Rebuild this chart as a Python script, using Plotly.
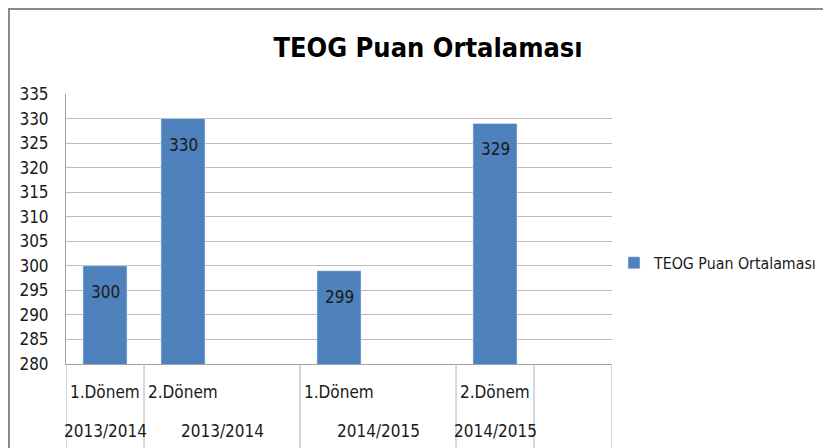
import plotly.graph_objects as go

# ---- data ----
slot_labels = ["1.Dönem", "2.Dönem", "", "1.Dönem", "", "2.Dönem", ""]
slot_values = [300, 330, None, 299, None, 329, None]
year_labels = ["2013/2014", "2013/2014", "2014/2015", "2014/2015"]
series_name = "TEOG Puan Ortalaması"
y_ticks = list(range(280, 340, 5))

FONT = "DejaVu Sans Condensed, Liberation Sans Narrow, sans-serif"
BAR = "#4f81bd"
GRID = "#bcbcbc"
TXT = "#1a1a1a"

# page has an 8px body margin; work in screen coordinates and convert
OFF = 8
W, H = 831 - OFF, 448 - OFF
L, R, T, B = 66, 612, 94, 364  # plot area in screen px

xs = list(range(len(slot_labels)))
bar_x = [x for x, v in zip(xs, slot_values) if v is not None]
bar_y = [v for v in slot_values if v is not None]

fig = go.Figure()
fig.add_trace(go.Bar(x=bar_x, y=bar_y, name=series_name, marker_color=BAR,
                     width=0.565, showlegend=True))

ann = []
for x, v in zip(bar_x, bar_y):
    ann.append(dict(x=x, y=v, xref="x", yref="y", text=str(v), showarrow=False,
                    yanchor="top", yshift=-14, font=dict(family=FONT, size=17, color=TXT)))

def py(p):
    return (B - p) / (B - T)

def px(p):
    return (p - L) / (R - L)

for x, lab in zip(xs, slot_labels):
    if lab:
        ann.append(dict(x=x, y=py(392), xref="x", yref="paper", text=lab, showarrow=False,
                        yanchor="middle", font=dict(family=FONT, size=17, color=TXT)))
year_pos = [0, 1.5, 3.5, 5]
for x, lab in zip(year_pos, year_labels):
    ann.append(dict(x=x, y=py(431), xref="x", yref="paper", text=lab, showarrow=False,
                    yanchor="middle", font=dict(family=FONT, size=17, color=TXT)))

shapes = []
for xb in [-0.5, 0.5, 2.5, 4.5, 5.5, 6.5]:
    shapes.append(dict(type="line", xref="x", yref="paper", x0=xb, x1=xb,
                       y0=0, y1=py(450), line=dict(color="#b0b0b0", width=1)))
# outer chart frame (top and left visible)
shapes.append(dict(type="line", xref="paper", yref="paper", x0=px(8), x1=px(850),
                   y0=py(9), y1=py(9), line=dict(color="#8a8a8a", width=2)))
shapes.append(dict(type="line", xref="paper", yref="paper", x0=px(9), x1=px(9),
                   y0=py(8), y1=py(470), line=dict(color="#8a8a8a", width=2)))

fig.update_layout(
    width=W, height=H,
    margin=dict(l=L - OFF, r=831 - R, t=T - OFF, b=448 - B, pad=0, autoexpand=False),
    paper_bgcolor="white", plot_bgcolor="white",
    title=dict(text="<b>TEOG Puan Ortalaması</b>", x=px(428), xanchor="center",
               y=1 - (48 - OFF) / H, yanchor="middle", xref="paper",
               font=dict(family=FONT, size=27, color="#000")),
    xaxis=dict(range=[-0.5, 6.5], showticklabels=False, showgrid=False, zeroline=False,
               showline=True, linecolor="#a0a0a0", linewidth=1, fixedrange=True),
    yaxis=dict(range=[280, 335], tickvals=y_ticks, showgrid=True, gridcolor=GRID,
               gridwidth=1, zeroline=False, showline=True, linecolor="#a0a0a0",
               ticks="", ticklabelstandoff=13,
               tickfont=dict(family=FONT, size=17, color=TXT)),
    legend=dict(x=px(614), xanchor="left", y=py(263), yanchor="middle",
                font=dict(family=FONT, size=15.8, color=TXT), bgcolor="rgba(0,0,0,0)"),
    annotations=ann, shapes=shapes, showlegend=True,
)

fig.write_html("out.html")
